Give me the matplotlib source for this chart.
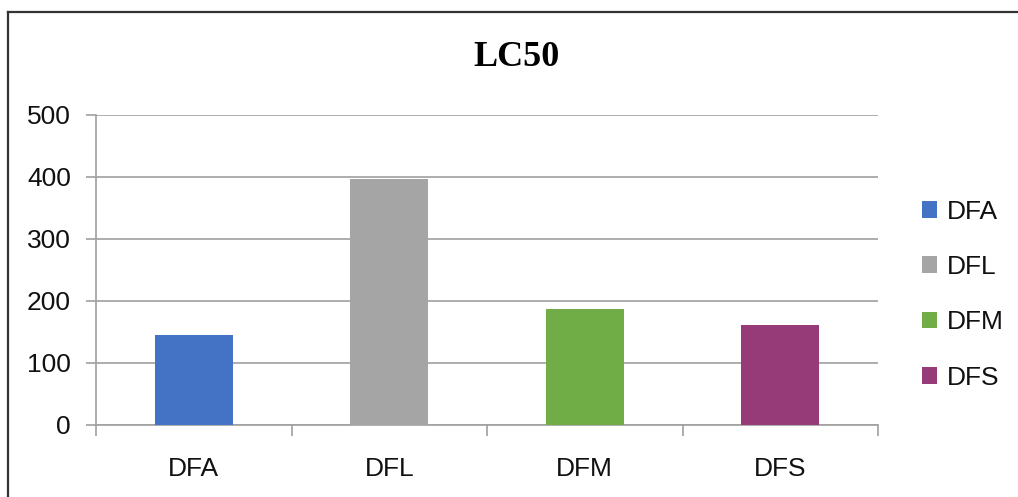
import matplotlib
matplotlib.use('Agg')
import matplotlib.pyplot as plt
from matplotlib.lines import Line2D
from matplotlib.patches import Patch

categories = ['DFA', 'DFL', 'DFM', 'DFS']
lc50 = [145, 396, 187, 161]
colors = ['#4472C4', '#A5A5A5', '#70AD47', '#963A78']
yticks = [0, 100, 200, 300, 400, 500]

label_font = 'Liberation Sans'
text_color = '#111111'
grid_color = '#A0A0A0'

fig = plt.figure(figsize=(10.18, 4.97), dpi=100)
ax = fig.add_axes([96 / 1018, 1 - 425 / 497, (878 - 96) / 1018, (425 - 115) / 497])

x = list(range(len(categories)))
ax.bar(x, lc50, width=0.4, color=colors, zorder=3)

ax.set_xlim(-0.5, len(categories) - 0.5)
ax.set_ylim(0, 500)
ax.set_yticks(yticks)
ax.set_xticks(x)
ax.set_xticklabels(categories)
# category separators on the x axis
ax.set_xticks([i - 0.5 for i in range(len(categories) + 1)], minor=True)

ax.yaxis.grid(True, color=grid_color, linewidth=1.2, zorder=0)
for side in ['top', 'right']:
    ax.spines[side].set_visible(False)
for side in ['left', 'bottom']:
    ax.spines[side].set_color(grid_color)
    ax.spines[side].set_linewidth(1.2)

ax.tick_params(axis='y', length=7, width=1.2, color=grid_color, pad=11,
               labelsize=19, labelcolor=text_color)
ax.tick_params(axis='x', which='major', length=0, pad=23,
               labelsize=19, labelcolor=text_color)
ax.tick_params(axis='x', which='minor', length=8, width=1.2, color=grid_color)
for lbl in ax.get_xticklabels() + ax.get_yticklabels():
    lbl.set_fontfamily(label_font)

fig.text(517 / 1018, 1 - 57 / 497, 'LC50', ha='center', va='center',
         fontsize=26, fontweight='bold', family='Liberation Serif')

handles = [Patch(facecolor=c, edgecolor='none') for c in colors]
leg = fig.legend(handles, categories, loc='upper left',
                 bbox_to_anchor=(911 / 1018, 1 - 189 / 497),
                 frameon=False, prop={'family': label_font, 'size': 19},
                 handlelength=0.6, handleheight=0.6, handletextpad=0.35,
                 labelspacing=1.19, borderaxespad=0)
for t in leg.get_texts():
    t.set_color(text_color)

# outer frame (top and left edges)
top = 1 - 12 / 497
left = 8 / 1018
fig.add_artist(Line2D([left, 1], [top, top], color='#333333', linewidth=1.6,
                      transform=fig.transFigure))
fig.add_artist(Line2D([left, left], [0, top], color='#333333', linewidth=1.6,
                      transform=fig.transFigure))

fig.savefig('out.png', dpi=100, facecolor='white')
